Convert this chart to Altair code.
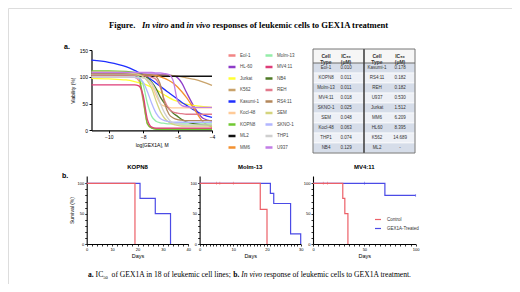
import altair as alt
import pandas as pd

FONT = "Liberation Sans"
SERIF = "Liberation Serif"

# ---------------- data: dose response ----------------
LOG_DOSE = [-11, -10, -9, -8.5, -8.25, -8, -7.75, -7.5, -7.25, -7, -6.75, -6.5, -6.25, -6, -5.75, -5.5, -5, -4.5, -4]

EOL1 = [100, 100, 100, 99, 93, 55, 12, 4, 3, 3, 3, 3, 3, 3, 3, 3, 3, 3, 3]
HL60 = [105, 105, 105, 105, 105, 105, 105, 105, 105, 104, 104, 103, 102, 98, 88, 72, 42, 22, 17]
JURKAT = [97, 96, 94, 91, 89, 87, 84, 80, 76, 71, 66, 61, 57, 54, 51, 49, 46, 44, 43]
K562 = [103, 103, 103, 103, 103, 103, 103, 103, 103, 103, 103, 103, 102, 101, 100, 98, 95, 90, 84]
KASUMI1 = [131, 127, 119, 112, 108, 104, 99, 94, 88, 82, 76, 70, 64, 58, 52, 47, 37, 29, 24]
KOCL48 = [100, 100, 100, 100, 99, 98, 94, 85, 65, 50, 45, 43, 42, 42, 42, 42, 42, 42, 42]
KOPN8 = [111, 111, 110, 108, 100, 60, 12, 4, 2, 2, 2, 2, 2, 2, 2, 2, 2, 2, 2]
ML2 = [101, 101, 101, 101, 101, 101, 101, 101, 101, 101, 101, 101, 101, 101, 101, 101, 101, 101, 101]
MM6 = [104, 104, 104, 104, 104, 104, 104, 103, 102, 100, 97, 93, 88, 81, 72, 62, 38, 15, 6]
MOLM13 = [104, 104, 104, 103, 100, 85, 50, 26, 17, 14, 13, 12, 12, 12, 12, 12, 12, 12, 12]
MV411 = [85, 85, 85, 85, 83, 65, 20, 6, 4, 4, 4, 4, 4, 4, 4, 4, 4, 4, 4]
NB4 = [108, 108, 107, 106, 105, 103, 98, 90, 78, 62, 50, 40, 32, 26, 20, 16, 12, 10, 9]
REH = [103, 103, 103, 103, 103, 102, 101, 99, 95, 80, 55, 40, 34, 32, 31, 30, 30, 30, 30]
RS411 = [106, 106, 106, 106, 105, 105, 104, 103, 100, 85, 50, 30, 23, 20, 19, 18, 18, 18, 18]
SEM = [109, 109, 108, 106, 104, 100, 92, 78, 55, 35, 22, 15, 11, 9, 8, 8, 8, 8, 8]
SKNO1 = [100, 100, 100, 99, 97, 90, 72, 50, 32, 22, 18, 16, 15, 15, 15, 15, 15, 15, 15]
THP1 = [100, 100, 100, 100, 99, 98, 95, 88, 72, 50, 32, 20, 14, 12, 11, 10, 10, 10, 10]
U937 = [108, 108, 108, 108, 108, 108, 108, 108, 107, 107, 106, 104, 92, 55, 46, 44, 43, 43, 43]

CELL_LINES = ["Eol-1", "HL-60", "Jurkat", "K562", "Kasumi-1", "Kocl-48", "KOPN8", "ML2", "MM6",
              "Molm-13", "MV4:11", "NB4", "REH", "RS4:11", "SEM", "SKNO-1", "THP1", "U937"]
CELL_COLORS = ["#F28585", "#8E3CC8", "#FFFF33", "#C9A36B", "#1F2FFF", "#FFCB98", "#70C832", "#111111", "#F39130",
               "#94EDA8", "#DE3D78", "#4F7A26", "#E27A8C", "#B3875B", "#D4D47E", "#B2B6FF", "#CFCFCF", "#C27DE6"]
VIABILITY = [EOL1, HL60, JURKAT, K562, KASUMI1, KOCL48, KOPN8, ML2, MM6,
             MOLM13, MV411, NB4, REH, RS411, SEM, SKNO1, THP1, U937]

# ---------------- data: IC50 table ----------------
TABLE_LEFT_TYPES = ["Eol-1", "KOPN8", "Molm-13", "MV4:11", "SKNO-1", "SEM", "Kocl-48", "THP1", "NB4"]
TABLE_LEFT_IC50 = ["0.010", "0.011", "0.011", "0.018", "0.025", "0.048", "0.063", "0.074", "0.129"]
TABLE_RIGHT_TYPES = ["Kasumi-1", "RS4:11", "REH", "U937", "Jurkat", "MM6", "HL60", "K562", "ML2"]
TABLE_RIGHT_IC50 = ["0.178", "0.182", "0.182", "0.530", "1.512", "6.209", "8.395", "14.689", "-"]

# ---------------- data: survival ----------------
KOPN8_CTRL_DAYS = [0, 19]
KOPN8_CTRL_SURV = [100, 0]
KOPN8_TRT_DAYS = [0, 21, 27, 33]
KOPN8_TRT_SURV = [100, 75, 50, 0]

MOLM13_CTRL_DAYS = [0, 18, 20]
MOLM13_CTRL_SURV = [100, 57.1, 0]
MOLM13_TRT_DAYS = [0, 21, 22, 27, 30]
MOLM13_TRT_SURV = [100, 83.3, 66.7, 16.7, 0]
MOLM13_CENSOR_DAYS = [5, 6, 10]

MV411_CTRL_DAYS = [0, 29, 31, 34]
MV411_CTRL_SURV = [100, 75, 50, 0]
MV411_TRT_DAYS = [0, 70, 100]
MV411_TRT_SURV = [100, 80, 80]
MV411_CTRL_CENSOR_DAYS = [10, 14]
MV411_TRT_CENSOR_DAYS = [50, 100]
MV411_TRT_CENSOR_SURV = [100, 80]

GROUPS = ["Control", "GEX1A-Treated"]
GROUP_COLORS = ["#EC6068", "#4B4BE6"]

# ---------------- layout ----------------
W, H = 504, 276
layers = []


def label(text, x, y, size, weight="normal", style="normal", font=FONT, align="left",
          baseline="alphabetic", color="black"):
    return alt.Chart(pd.DataFrame({"t": [text]})).mark_text(
        align=align, baseline=baseline, font=font, fontSize=size,
        fontWeight=weight, fontStyle=style, color=color
    ).encode(text="t:N", x=alt.value(x), y=alt.value(y))


# ---- figure title ----
TY = 19.5
TS = 8.6
layers += [
    label("Figure.", 101, TY, TS, "bold", font=SERIF),
    label("In vitro", 134.0, TY, TS, "bold", "italic", font=SERIF),
    label("and", 162.6, TY, TS, "bold", font=SERIF),
    label("in vivo", 178.6, TY, TS, "bold", "italic", font=SERIF),
    label("responses of leukemic cells to GEX1A treatment", 204.4, TY, TS, "bold", font=SERIF),
]

# ---- panel letters ----
layers += [
    label("a.", 56, 41, 7, "bold"),
    label("b.", 54, 169.5, 7, "bold"),
]

# ---- dose response ----
DOSE_X = [83.5, 204]
DOSE_Y = [122.3, 42]
axis_common = dict(grid=False, domainColor="black", tickColor="black", labelColor="black",
                   titleColor="black", labelFont=FONT, titleFont=FONT, titleFontWeight="normal",
                   labelFlush=False)


def dose_layer(names, legend_x, with_axes):
    rows = []
    for name in names:
        vals = VIABILITY[CELL_LINES.index(name)]
        for x, v in zip(LOG_DOSE, vals):
            rows.append({"cell": name, "logdose": x, "viability": v})
    df = pd.DataFrame(rows)
    colors = [CELL_COLORS[CELL_LINES.index(c)] for c in names]
    xs = alt.Scale(domain=[-11, -4], range=DOSE_X, nice=False, zero=False)
    ys = alt.Scale(domain=[0, 150], range=DOSE_Y, nice=False, zero=False)
    if with_axes:
        xax = alt.Axis(orient="bottom", offset=DOSE_Y[0] - H, values=[-10, -8, -6, -4],
                       title="log[GEX1A], M", labelFontSize=5, titleFontSize=5,
                       tickSize=2.5, domainWidth=1.2, labelPadding=1.5, titlePadding=3,
                       **axis_common)
        yax = alt.Axis(orient="left", offset=-DOSE_X[0], values=[0, 50, 100, 150],
                       title="Viability (%)", labelFontSize=5, titleFontSize=5,
                       tickSize=2.5, domainWidth=1.2, labelPadding=1.5, titlePadding=4,
                       **axis_common)
    else:
        xax = None
        yax = None
    return alt.Chart(df).mark_line(interpolate="monotone", strokeWidth=1.3).encode(
        x=alt.X("logdose:Q", scale=xs, axis=xax),
        y=alt.Y("viability:Q", scale=ys, axis=yax),
        color=alt.Color("cell:N", title=None,
                        scale=alt.Scale(domain=names, range=colors),
                        legend=alt.Legend(orient="none", legendX=legend_x, legendY=42.5,
                                          symbolType="stroke", symbolStrokeWidth=2.5,
                                          symbolSize=49, labelFontSize=4.5, labelFont=FONT,
                                          labelColor="#444", rowPadding=1.5, labelOffset=3,
                                          padding=0)),
        detail="cell:N",
    )


layers.append(dose_layer(CELL_LINES[:9], 219, True))
layers.append(dose_layer(CELL_LINES[9:], 256, False))

# ---- IC50 table ----
T_L, T_R, T_DIV = 305, 407, 356
T_TOP, T_HEAD, T_BOT = 41, 55, 145
ROWS = list(range(9))
row_df = pd.DataFrame({
    "row": ROWS,
    "shade": ["a" if i % 2 == 0 else "b" for i in ROWS],
    "lt": TABLE_LEFT_TYPES, "lv": TABLE_LEFT_IC50,
    "rt": TABLE_RIGHT_TYPES, "rv": TABLE_RIGHT_IC50,
})
band = alt.Scale(type="band", domain=ROWS, range=[T_HEAD, T_BOT], paddingInner=0, paddingOuter=0)
pts = alt.Scale(type="point", domain=ROWS, range=[T_HEAD, T_BOT], padding=0.5)

layers.append(alt.Chart(pd.DataFrame({"t": [0]})).mark_rect(color="#F6F6F6").encode(
    x=alt.value(T_L), x2=alt.value(T_R), y=alt.value(T_TOP), y2=alt.value(T_HEAD)))
layers.append(alt.Chart(row_df).mark_rect(stroke="white", strokeWidth=0.6).encode(
    x=alt.value(T_L), x2=alt.value(T_R),
    y=alt.Y("row:O", scale=band, axis=None),
    color=alt.Color("shade:N", scale=alt.Scale(domain=["a", "b"], range=["#D6DDE9", "#EDF0F6"]),
                    legend=None)))
for field, xc in [("lt", 318), ("lv", 338), ("rt", 369), ("rv", 392)]:
    layers.append(alt.Chart(row_df).mark_text(fontSize=4.5, font=FONT, color="#333",
                                              align="center", baseline="middle").encode(
        x=alt.value(xc), y=alt.Y("row:O", scale=pts, axis=None), text=f"{field}:N"))
for txt, xc in [("Cell\nType", 318), ("IC₅₀\n(μM)", 338), ("Cell\nType", 369), ("IC₅₀\n(μM)", 392)]:
    layers.append(alt.Chart(pd.DataFrame({"t": [txt]})).mark_text(
        fontSize=5, font=FONT, fontWeight="bold", color="#333", align="center",
        baseline="middle", lineBreak="\n", lineHeight=5.5).encode(
        x=alt.value(xc), y=alt.value((T_TOP + T_HEAD) / 2), text="t:N"))
layers.append(alt.Chart(pd.DataFrame({"t": [0]})).mark_rule(color="#555", strokeWidth=0.9).encode(
    x=alt.value(T_L), x2=alt.value(T_R), y=alt.value(T_HEAD)))
layers.append(alt.Chart(pd.DataFrame({"t": [0]})).mark_rule(color="#444", strokeWidth=1.6).encode(
    x=alt.value(T_DIV), y=alt.value(T_TOP), y2=alt.value(T_BOT)))
layers.append(alt.Chart(pd.DataFrame({"t": [0]})).mark_rect(fill=None, stroke="#666", strokeWidth=0.9).encode(
    x=alt.value(T_L), x2=alt.value(T_R), y=alt.value(T_TOP), y2=alt.value(T_BOT)))

# ---- survival panels ----
KM_Y = [236, 168]


def km_panel(title, ctrl_days, ctrl_surv, trt_days, trt_surv, xmax, xr, step, lab_step,
             ytitle, legend, censor):
    df = pd.concat([
        pd.DataFrame({"day": trt_days, "surv": trt_surv, "group": "GEX1A-Treated"}),
        pd.DataFrame({"day": ctrl_days, "surv": ctrl_surv, "group": "Control"}),
    ], ignore_index=True)
    xs = alt.Scale(domain=[0, xmax], range=xr, nice=False, zero=False)
    ys = alt.Scale(domain=[0, 112], range=KM_Y, nice=False, zero=False)
    cs = alt.Scale(domain=GROUPS, range=GROUP_COLORS)
    yaxis_kw = dict(orient="left", offset=-xr[0], values=list(range(0, 101, 10)),
                    labelExpr="datum.value % 50 === 0 ? datum.label : ''",
                    labelFontSize=4, titleFontSize=5, tickSize=2, tickWidth=0.8, domainWidth=1.1,
                    labelPadding=1, titlePadding=3, **axis_common)
    if ytitle:
        yaxis_kw["title"] = ytitle
    line = alt.Chart(df).mark_line(interpolate="step-after", strokeWidth=1.2).encode(
        x=alt.X("day:Q", scale=xs,
                axis=alt.Axis(orient="bottom", offset=KM_Y[0] - H,
                              values=list(range(0, xmax + 1, step)),
                              labelExpr=f"datum.value % {lab_step} === 0 ? datum.label : ''",
                              title="Days", labelFontSize=4, titleFontSize=5.5, tickSize=2,
                              tickWidth=0.8, domainWidth=1.1, labelPadding=1, titlePadding=2,
                              **axis_common)),
        y=alt.Y("surv:Q", scale=ys, axis=alt.Axis(**yaxis_kw),
                title=ytitle if ytitle else None),
        color=alt.Color("group:N", scale=cs, title=None,
                        legend=alt.Legend(orient="none", legendX=366, legendY=207.5,
                                          symbolType="stroke", symbolSize=36,
                                          symbolStrokeWidth=1.2, labelFontSize=4.5,
                                          labelFont=FONT, labelColor="#333", rowPadding=2,
                                          labelOffset=5, padding=0) if legend else None),
        detail="group:N",
    )
    out = [line]
    if censor is not None:
        out.append(alt.Chart(censor).mark_tick(orient="vertical", size=3, thickness=0.7).encode(
            x=alt.X("day:Q", scale=xs, axis=None),
            y=alt.Y("surv:Q", scale=ys, axis=None),
            color=alt.Color("group:N", scale=cs, legend=None)))
    cx = (xr[0] + xr[1]) / 2
    out.append(label(title, cx, 161, 6, "bold", align="center"))
    return out


molm_censor = pd.DataFrame({"day": MOLM13_CENSOR_DAYS, "surv": [100] * len(MOLM13_CENSOR_DAYS),
                            "group": "Control"})
mv_censor = pd.concat([
    pd.DataFrame({"day": MV411_CTRL_CENSOR_DAYS, "surv": [100] * len(MV411_CTRL_CENSOR_DAYS),
                  "group": "Control"}),
    pd.DataFrame({"day": MV411_TRT_CENSOR_DAYS, "surv": MV411_TRT_CENSOR_SURV,
                  "group": "GEX1A-Treated"}),
], ignore_index=True)

layers += km_panel("KOPN8", KOPN8_CTRL_DAYS, KOPN8_CTRL_SURV, KOPN8_TRT_DAYS, KOPN8_TRT_SURV,
                   40, [78.7, 180.3], 2, 10, "Survival (%)", False, None)
layers += km_panel("Molm-13", MOLM13_CTRL_DAYS, MOLM13_CTRL_SURV, MOLM13_TRT_DAYS, MOLM13_TRT_SURV,
                   30, [191.6, 292.7], 1, 10, None, False, molm_censor)
layers += km_panel("MV4:11", MV411_CTRL_DAYS, MV411_CTRL_SURV, MV411_TRT_DAYS, MV411_TRT_SURV,
                   100, [305, 407.7], 5, 50, None, True, mv_censor)

# ---- caption ----
CY = 269
CS = 7.6
layers += [
    label("a.", 80, CY, CS, "bold", font=SERIF),
    label("IC", 87.6, CY, CS, font=SERIF),
    label("50", 95.2, CY + 1.5, 4.6, font=SERIF),
    label("of GEX1A in 18 of leukemic cell lines;", 103.6, CY, CS, font=SERIF),
    label("b.", 225.2, CY, CS, "bold", font=SERIF),
    label("In vivo", 233.2, CY, CS, style="italic", font=SERIF),
    label("response of leukemic cells to GEX1A treatment.", 256.0, CY, CS, font=SERIF),
]

chart = alt.layer(*layers).resolve_scale(
    x="independent", y="independent", color="independent"
).properties(
    width=W, height=H, autosize=alt.AutoSizeParams(type="none"), padding=0
).configure_view(stroke=None).configure(font=FONT)

chart.save("out.html", embed_options={"renderer": "svg", "actions": False})
